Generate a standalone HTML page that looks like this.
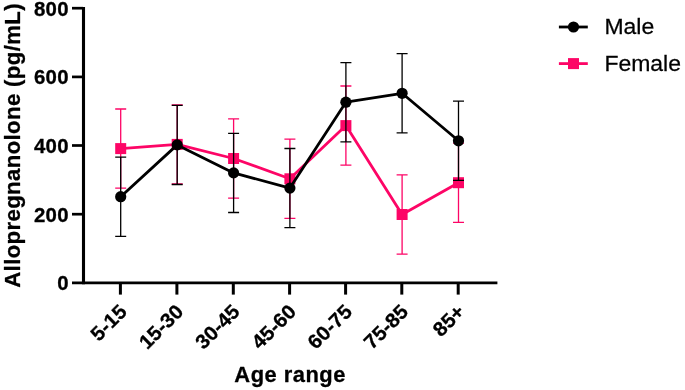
<!DOCTYPE html><html><head><meta charset="utf-8"><title>Chart</title><style>html,body{margin:0;padding:0;background:#fff}svg{display:block;will-change:transform}text{font-family:"Liberation Sans",Arial,sans-serif;fill:#000}text[font-weight=bold]{stroke:#000;stroke-width:.3px;stroke-linejoin:round}text.lg{stroke:#000;stroke-width:.25px}</style></head><body>
<svg width="685" height="390" viewBox="0 0 685 390">
<rect width="685" height="390" fill="#fff"/>
<path d="M120.7 109.0V188.2M115.2 109.0h11M115.2 188.2h11" stroke="#fd0566" stroke-width="1.3" fill="none"/>
<path d="M177.2 104.8V184.0M171.7 104.8h11M171.7 184.0h11" stroke="#fd0566" stroke-width="1.3" fill="none"/>
<path d="M233.6 118.9V198.1M228.1 118.9h11M228.1 198.1h11" stroke="#fd0566" stroke-width="1.3" fill="none"/>
<path d="M289.9 139.2V218.4M284.4 139.2h11M284.4 218.4h11" stroke="#fd0566" stroke-width="1.3" fill="none"/>
<path d="M345.9 86.0V165.2M340.4 86.0h11M340.4 165.2h11" stroke="#fd0566" stroke-width="1.3" fill="none"/>
<path d="M402.1 174.9V254.1M396.6 174.9h11M396.6 254.1h11" stroke="#fd0566" stroke-width="1.3" fill="none"/>
<path d="M458.5 143.1V222.3M453.0 143.1h11M453.0 222.3h11" stroke="#fd0566" stroke-width="1.3" fill="none"/>
<polyline points="120.7,148.6 177.2,144.4 233.6,158.5 289.9,178.8 345.9,125.6 402.1,214.5 458.5,182.7" fill="none" stroke="#fd0566" stroke-width="2.8" stroke-linejoin="round"/>
<rect x="115.2" y="143.1" width="11" height="11" fill="#fd0566"/>
<rect x="171.7" y="138.9" width="11" height="11" fill="#fd0566"/>
<rect x="228.1" y="153.0" width="11" height="11" fill="#fd0566"/>
<rect x="284.4" y="173.3" width="11" height="11" fill="#fd0566"/>
<rect x="340.4" y="120.1" width="11" height="11" fill="#fd0566"/>
<rect x="396.6" y="209.0" width="11" height="11" fill="#fd0566"/>
<rect x="453.0" y="177.2" width="11" height="11" fill="#fd0566"/>
<path d="M120.7 157.1V236.3M115.2 157.1h11M115.2 236.3h11" stroke="#000" stroke-width="1.3" fill="none"/>
<path d="M177.2 105.3V184.5M171.7 105.3h11M171.7 184.5h11" stroke="#000" stroke-width="1.3" fill="none"/>
<path d="M233.6 133.3V212.5M228.1 133.3h11M228.1 212.5h11" stroke="#000" stroke-width="1.3" fill="none"/>
<path d="M289.9 148.5V227.7M284.4 148.5h11M284.4 227.7h11" stroke="#000" stroke-width="1.3" fill="none"/>
<path d="M345.9 62.6V141.8M340.4 62.6h11M340.4 141.8h11" stroke="#000" stroke-width="1.3" fill="none"/>
<path d="M402.1 53.7V132.9M396.6 53.7h11M396.6 132.9h11" stroke="#000" stroke-width="1.3" fill="none"/>
<path d="M458.5 101.2V180.4M453.0 101.2h11M453.0 180.4h11" stroke="#000" stroke-width="1.3" fill="none"/>
<polyline points="120.7,196.7 177.2,144.9 233.6,172.9 289.9,188.1 345.9,102.2 402.1,93.3 458.5,140.8" fill="none" stroke="#000" stroke-width="2.8" stroke-linejoin="round"/>
<circle cx="120.7" cy="196.7" r="5.6" fill="#000"/>
<circle cx="177.2" cy="144.9" r="5.6" fill="#000"/>
<circle cx="233.6" cy="172.9" r="5.6" fill="#000"/>
<circle cx="289.9" cy="188.1" r="5.6" fill="#000"/>
<circle cx="345.9" cy="102.2" r="5.6" fill="#000"/>
<circle cx="402.1" cy="93.3" r="5.6" fill="#000"/>
<circle cx="458.5" cy="140.8" r="5.6" fill="#000"/>
<path d="M83.5 6.9V284.3" stroke="#000" stroke-width="3.1" fill="none"/>
<path d="M72 282.9H497.4" stroke="#000" stroke-width="2.8" fill="none"/>
<path d="M72 8.2H83" stroke="#000" stroke-width="2.7"/>
<text font-size="20" font-weight="bold" text-anchor="end" letter-spacing=".3" transform="translate(68.9 15.6) scale(1.02 1)">800</text>
<path d="M72 76.9H83" stroke="#000" stroke-width="2.7"/>
<text font-size="20" font-weight="bold" text-anchor="end" letter-spacing=".3" transform="translate(68.9 84.3) scale(1.02 1)">600</text>
<path d="M72 145.5H83" stroke="#000" stroke-width="2.7"/>
<text font-size="20" font-weight="bold" text-anchor="end" letter-spacing=".3" transform="translate(68.9 152.9) scale(1.02 1)">400</text>
<path d="M72 214.2H83" stroke="#000" stroke-width="2.7"/>
<text font-size="20" font-weight="bold" text-anchor="end" letter-spacing=".3" transform="translate(68.9 221.6) scale(1.02 1)">200</text>
<text font-size="20" font-weight="bold" text-anchor="end" letter-spacing=".3" transform="translate(68.9 290.3) scale(1.02 1)">0</text>
<path d="M120.4 283V294.6" stroke="#000" stroke-width="3"/>
<text font-size="20" font-weight="bold" text-anchor="end" transform="translate(128.1 312.9) rotate(-45) scale(1.035 1)">5-15</text>
<path d="M176.9 283V294.6" stroke="#000" stroke-width="3"/>
<text font-size="20" font-weight="bold" text-anchor="end" transform="translate(184.6 312.9) rotate(-45) scale(1.035 1)">15-30</text>
<path d="M233.3 283V294.6" stroke="#000" stroke-width="3"/>
<text font-size="20" font-weight="bold" text-anchor="end" transform="translate(241.0 312.9) rotate(-45) scale(1.035 1)">30-45</text>
<path d="M289.6 283V294.6" stroke="#000" stroke-width="3"/>
<text font-size="20" font-weight="bold" text-anchor="end" transform="translate(297.3 312.9) rotate(-45) scale(1.035 1)">45-60</text>
<path d="M345.6 283V294.6" stroke="#000" stroke-width="3"/>
<text font-size="20" font-weight="bold" text-anchor="end" transform="translate(353.3 312.9) rotate(-45) scale(1.035 1)">60-75</text>
<path d="M401.8 283V294.6" stroke="#000" stroke-width="3"/>
<text font-size="20" font-weight="bold" text-anchor="end" transform="translate(409.5 312.9) rotate(-45) scale(1.035 1)">75-85</text>
<path d="M458.2 283V294.6" stroke="#000" stroke-width="3"/>
<text font-size="20" font-weight="bold" text-anchor="end" transform="translate(465.9 312.9) rotate(-45) scale(1.035 1)">85+</text>
<text font-size="22.2" font-weight="bold" text-anchor="middle" letter-spacing=".36" transform="translate(20.4 145.4) rotate(-90)">Allopregnanolone (pg/mL)</text>
<text font-size="21.9" font-weight="bold" text-anchor="middle" letter-spacing=".5" transform="translate(290.1 382.4)">Age range</text>
<path d="M558.9 27H587.8" stroke="#000" stroke-width="2.8"/><circle cx="573.5" cy="27" r="5.6" fill="#000"/>
<path d="M558.9 63.6H587.8" stroke="#fd0566" stroke-width="2.8"/><rect x="568" y="58.1" width="11" height="11" fill="#fd0566"/>
<text font-size="22.1" class="lg" transform="translate(604.4 34.3) scale(1.04 1)">Male</text>
<text font-size="22.1" class="lg" transform="translate(604.4 71) scale(1.04 1)">Female</text>
</svg></body></html>
